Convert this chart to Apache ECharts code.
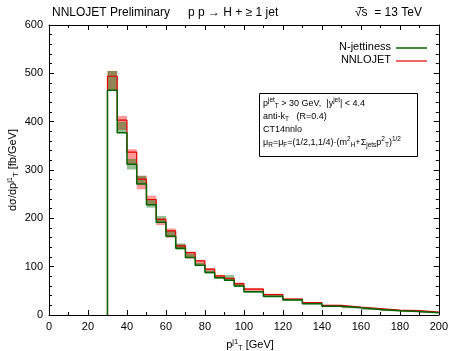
<!DOCTYPE html>
<html><head><meta charset="utf-8">
<script src="https://cdn.jsdelivr.net/npm/echarts@6/dist/echarts.min.js"></script>
<style>html,body{margin:0;padding:0;background:#fff}#c{width:451px;height:351px}</style>
</head><body><div id="c"></div>
<script>
// bin edges (GeV)
const binEdges = [30,35,40,45,50,55,60,65,70,75,80,85,90,95,100,110,120,130,140,150,160,170,180,190,200];
// N-jettiness central values and scale band
const njetCentral = [465,377,312,271,228,192,163,138,119,103,88,77,72,60,48,39,31,23.5,18,15,11.5,9,7,4.5];
const njetLow  = [465,377,301,271,222,192,163,135,119,101,86,75,72,58,46,36,30,22,17,14,10.5,8,6,4];
const njetHigh = [505,400,323,288,240,205,174,148,127,108,92,80,83,66,50,40,33,25,19.5,16,12.5,10,9,5.5];
// NNLOJET central values and scale band
const nnloCentral = [494,403,337,281,239,198,174,143,129,112,95,81,76,65,53.5,42,33,25.5,20,16.5,13.5,10,9,6];
const nnloLow  = [465,383,312,260,228,186,160,137,117,104,88,76,72,60,50,40,31,24,18.5,15,12,9,7.5,5];
const nnloHigh = [505,412,343,288,247,200,179,146,131,114,97,82,77,67,56,44,34,27,21,17.5,14.5,10.5,9.5,7];
// axis ticks
const xTicks = {min:0, max:200, interval:20};
const yTicks = {min:0, max:600, interval:100};

function stepData(vals){
  const d = [[binEdges[0],0]];
  for(let i=0;i<vals.length;i++){ d.push([binEdges[i],vals[i]]); d.push([binEdges[i+1],vals[i]]); }
  return d;
}
function bandData(lo,hi){
  return lo.map((v,i)=>[binEdges[i],binEdges[i+1],lo[i],hi[i]]);
}
function bandSeries(lo,hi,fill){
  return {type:'custom', xAxisIndex:0, yAxisIndex:0, silent:true,
    data: bandData(lo,hi), encode:{x:[0,1], y:[2,3]},
    renderItem:(params,api)=>{
      const p1 = api.coord([api.value(0), api.value(3)]);
      const p2 = api.coord([api.value(1), api.value(2)]);
      return {type:'rect', shape:{x:p1[0], y:p1[1], width:p2[0]-p1[0], height:p2[1]-p1[1]}, style:{fill:fill}};
    }};
}
const FONT = 'Liberation Sans, Arial, sans-serif';
const axisCommon = {axisLine:{show:true, onZero:false, lineStyle:{color:'#000',width:1}},
  axisTick:{show:true, inside:true, length:5, lineStyle:{color:'#000'}},
  minorTick:{show:true, length:3, lineStyle:{color:'#000'}},
  splitLine:{show:false}};
const rich = {
  n:{fontSize:9, fontFamily:FONT, color:'#000', verticalAlign:'middle'},
  sup:{fontSize:6.5, fontFamily:FONT, color:'#000', verticalAlign:'top'},
  sub:{fontSize:6.5, fontFamily:FONT, color:'#000', verticalAlign:'bottom'}
};
const richL = {
  n:{fontSize:11, fontFamily:FONT, color:'#000'},
  sup:{fontSize:7.5, fontFamily:FONT, color:'#000', verticalAlign:'top'},
  sub:{fontSize:7.5, fontFamily:FONT, color:'#000', verticalAlign:'bottom'}
};
const chart = echarts.init(document.getElementById('c'), null, {renderer:'canvas'});
chart.setOption({
  animation:false,
  backgroundColor:'#fff',
  grid:{left:49, right:12, top:25, bottom:36},
  xAxis:[
    Object.assign({type:'value', position:'bottom', min:xTicks.min, max:xTicks.max, interval:xTicks.interval,
      axisLabel:{color:'#000', fontSize:11, fontFamily:FONT, margin:6}}, axisCommon, {minorTick:{show:true,splitNumber:2,length:3,lineStyle:{color:'#000'}}}),
    Object.assign({type:'value', position:'top', min:xTicks.min, max:xTicks.max, interval:xTicks.interval,
      axisLabel:{show:false}}, axisCommon, {minorTick:{show:true,splitNumber:2,length:3,lineStyle:{color:'#000'}}})
  ],
  yAxis:[
    Object.assign({type:'value', position:'left', min:yTicks.min, max:yTicks.max, interval:yTicks.interval,
      axisLabel:{color:'#000', fontSize:11, fontFamily:FONT, margin:6}}, axisCommon, {minorTick:{show:true,splitNumber:5,length:3,lineStyle:{color:'#000'}}}),
    Object.assign({type:'value', position:'right', min:yTicks.min, max:yTicks.max, interval:yTicks.interval,
      axisLabel:{show:false}}, axisCommon, {minorTick:{show:true,splitNumber:5,length:3,lineStyle:{color:'#000'}}})
  ],
  series:[
    bandSeries(nnloLow, nnloHigh, 'rgba(255,0,0,0.4)'),
    bandSeries(njetLow, njetHigh, 'rgba(0,105,0,0.42)'),
    {type:'line', name:'NNLOJET', data:stepData(nnloCentral), showSymbol:false, symbol:'none',
      lineStyle:{color:'#e00000', width:1.2}, z:3},
    {type:'line', name:'N-jettiness', data:stepData(njetCentral), showSymbol:false, symbol:'none',
      lineStyle:{color:'#006400', width:1.5}, z:4}
  ],
  graphic:[
    {type:'text', left:52, top:7, style:{text:'NNLOJET Preliminary', font:'12px '+FONT, fill:'#000'}},
    {type:'text', left:188, top:7, style:{text:'p p → H + ≥ 1 jet', font:'12px '+FONT, fill:'#000'}},
    {type:'text', left:355, top:7, style:{text:'√s  = 13 TeV', font:'12px '+FONT, fill:'#000'}},
    {type:'line', shape:{x1:357.5,y1:7.5,x2:364,y2:7.5}, style:{stroke:'#000',lineWidth:0.8}},
    // legend
    {type:'text', x:391, y:47, style:{text:'N-jettiness', font:'11px '+FONT, fill:'#000', align:'right', verticalAlign:'middle'}, z:10},
    {type:'line', shape:{x1:396,y1:48,x2:427,y2:48}, style:{stroke:'#006400',lineWidth:1.5}, z:10},
    {type:'text', x:391, y:60, style:{text:'NNLOJET', font:'11px '+FONT, fill:'#000', align:'right', verticalAlign:'middle'}, z:10},
    {type:'line', shape:{x1:396,y1:61,x2:427,y2:61}, style:{stroke:'#e00000',lineWidth:1.2}, z:10},
    // info box
    {type:'rect', shape:{x:259.5,y:93.5,width:158,height:63}, style:{fill:'#fff', stroke:'#000', lineWidth:1}, z:10},
    {type:'text', x:263, y:97, z:11, style:{rich:rich, lineHeight:13,
      text:'{n|p}{sup|jet}{sub|T}{n| > 30 GeV,  |y}{sup|jet}{n|| < 4.4}\n{n|anti-k}{sub|T}{n|   (R=0.4)}\n{n|CT14nnlo}\n{n|μ}{sub|R}{n|=μ}{sub|F}{n|=(1/2,1,1/4)·(m}{sup|2}{sub|H}{n|+Σ}{sub|jets}{n|p}{sup|2}{sub|T}{n|)}{sup|1/2}'}},
    // axis titles
    {type:'text', x:250, y:345, z:11, style:{rich:richL, align:'center', verticalAlign:'middle', lineHeight:14,
      text:'{n|p}{sup|j1}{sub|T}{n| [GeV]}'}},
    {type:'text', x:13, y:170, rotation:Math.PI/2, z:11, style:{rich:richL, align:'center', verticalAlign:'middle', lineHeight:14,
      text:'{n|dσ/dp}{sup|j1}{sub|T}{n| [fb/GeV]}'}}
  ]
});
</script></body></html>
